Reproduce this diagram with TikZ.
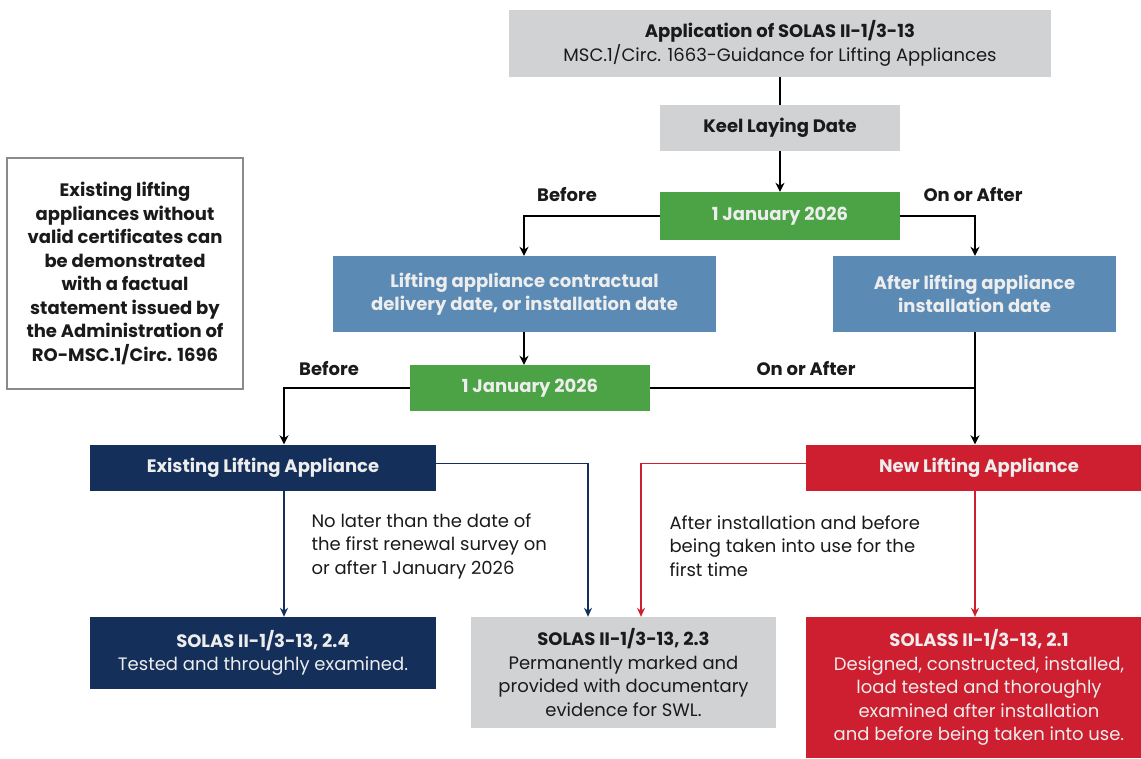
\documentclass[tikz,border=0pt]{standalone}
\usepackage{fontspec}
\setmainfont{Poppins}
\usetikzlibrary{arrows.meta}
\definecolor{boxgray}{HTML}{D1D2D4}
\definecolor{boxgreen}{HTML}{4BA345}
\definecolor{boxblue}{HTML}{5B8AB5}
\definecolor{boxnavy}{HTML}{14305A}
\definecolor{boxred}{HTML}{CD1F2F}
\definecolor{paletext}{HTML}{EDEDED}
\definecolor{darktext}{HTML}{1A1A1A}
\definecolor{sideborder}{HTML}{8A8A8A}
\begin{document}
\begin{tikzpicture}[x=1pt,y=-1pt,
  txt/.style={font=\fontsize{18}{23.5}\selectfont, align=center, text=darktext},
  box/.style={txt, inner sep=0pt},
  graybox/.style={box, fill=boxgray},
  greenbox/.style={box, fill=boxgreen, text=paletext, font=\fontsize{18}{23.5}\selectfont\bfseries},
  bluebox/.style={box, fill=boxblue, text=paletext, font=\fontsize{18}{23.5}\selectfont\bfseries},
  navybox/.style={box, fill=boxnavy, text=paletext},
  redbox/.style={box, fill=boxred, text=paletext},
  lbl/.style={txt, font=\fontsize{18}{23.5}\selectfont\bfseries},
  note/.style={txt, align=left},
  conn/.style={line width=2.4pt, draw=black},
  arr/.style={conn, -{Stealth[length=9pt,width=9pt]}},
  navyarr/.style={line width=1.8pt, draw=boxnavy, -{Stealth[length=9pt,width=8pt]}},
  redarr/.style={line width=1.8pt, draw=boxred, -{Stealth[length=9pt,width=8pt]}}
]
\useasboundingbox (0,0) rectangle (1141,758);

\node[graybox, minimum width=542, minimum height=67] (top) at (780,43.5)
  {\textbf{Application of SOLAS II-1/3-13}\\MSC.1/Circ. 1663-Guidance for Lifting Appliances};
\node[graybox, minimum width=240, minimum height=46, font=\fontsize{18}{23.5}\selectfont\bfseries] (keel) at (780,128) {Keel Laying Date};
\node[greenbox, minimum width=240, minimum height=48] (g1) at (780,216) {1 January 2026};
\node[bluebox, minimum width=383, minimum height=76] (lb) at (524.5,294)
  {Lifting appliance contractual\\delivery date, or installation date};
\node[bluebox, minimum width=283, minimum height=76] (rb) at (974.5,294)
  {After lifting appliance\\installation date};
\node[greenbox, minimum width=240, minimum height=46] (g2) at (530,388) {1 January 2026};
\node[navybox, minimum width=346, minimum height=46, font=\fontsize{18}{23.5}\selectfont\bfseries] (ex) at (263,467.5) {Existing Lifting Appliance};
\node[redbox, minimum width=346, minimum height=46, font=\fontsize{18}{23.5}\selectfont\bfseries] (nw) at (979,467.5) {New Lifting Appliance};
\node[navybox, minimum width=346, minimum height=72] (s24) at (263,653)
  {\textbf{SOLAS II-1/3-13, 2.4}\\Tested and throughly examined.};
\node[graybox, minimum width=305, minimum height=111] (s23) at (623.5,672.5)
  {\textbf{SOLAS II-1/3-13, 2.3}\\Permanently marked and\\provided with documentary\\evidence for SWL.};
\node[redbox, minimum width=346, minimum height=141] (s21) at (979,687.5)
  {\textbf{SOLASS II-1/3-13, 2.1}\\Designed, constructed, installed,\\load tested and thoroughly\\examined after installation\\and before being taken into use.};
\node[box, draw=sideborder, line width=2pt, fill=white, minimum width=236, minimum height=231,
  font=\fontsize{18}{23.5}\selectfont\bfseries] (side) at (125,273.5)
  {Existing lifting\\appliances without\\valid certificates can\\be demonstrated\\with a factual\\statement issued by\\the Administration of\\RO-MSC.1/Circ. 1696};

% labels
\node[lbl] (b1) at (567,195) {Before};
\node[lbl] (oa1) at (973,195) {On or After};
\node[lbl] (b2) at (329,369) {Before};
\node[lbl] (oa2) at (806,369) {On or After};
\node[note, anchor=west] (n1) at (308,546) {No later than the date of\\the first renewal survey on\\or after 1 January 2026};
\node[note, anchor=west] (n2) at (666,546) {After installation and before\\being taken into use for the\\first time};

% connectors
\draw[conn] (top.south) -- (keel.north);
\draw[arr] (keel.south) -- (g1.north);
\draw[arr] (g1.west) -| ([xshift=-0.5]lb.north);
\draw[arr] (g1.east) -| ([xshift=0.5]rb.north);
\draw[arr] ([xshift=-0.5]lb.south) -- ([xshift=-0.5]lb.south |- g2.north);
\draw[arr] (g2.west) -| ([xshift=21]ex.north);
\draw[conn] (g2.east) -- (g2.east -| rb.south);
\draw[arr] ([xshift=0.5]rb.south) -- ([xshift=0.5]rb.south |- nw.north);
\draw[navyarr] ([xshift=21]ex.south) -- ([xshift=21]ex.south |- s24.north);
\draw[navyarr] ([yshift=4]ex.east) -| ([xshift=-35.5]s23.north);
\draw[redarr] ([yshift=4]nw.west) -| ([xshift=17.5]s23.north);
\draw[redarr] ([xshift=-4]nw.south) -- ([xshift=-4]nw.south |- s21.north);
\end{tikzpicture}
\end{document}
